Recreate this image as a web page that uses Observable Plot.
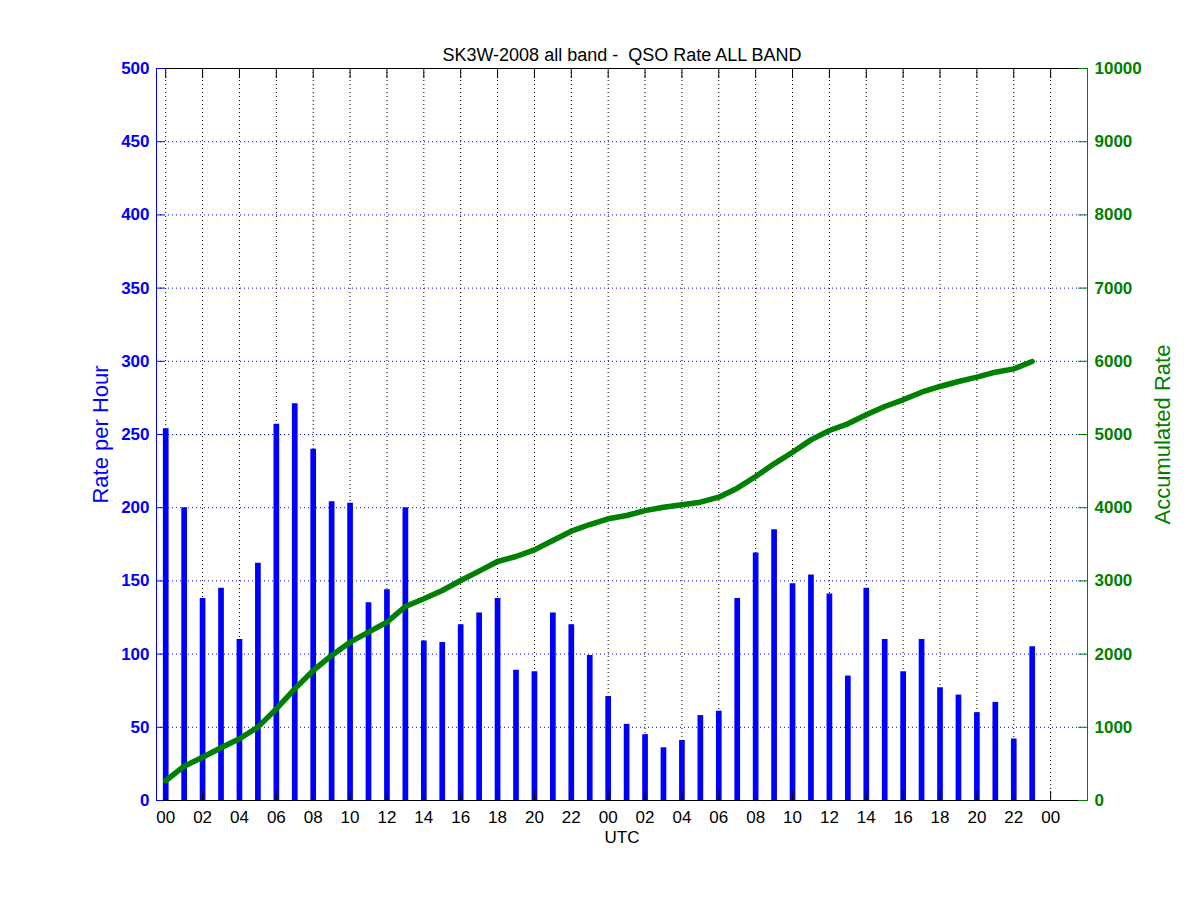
<!DOCTYPE html>
<html>
<head>
<meta charset="utf-8">
<script src="https://cdn.jsdelivr.net/npm/d3@7"></script>
<script src="https://cdn.jsdelivr.net/npm/@observablehq/plot@0.6"></script>
<style>
  html, body { margin: 0; padding: 0; background: #ffffff; }
  #chart { width: 1201px; height: 900px; }
</style>
</head>
<body>
<div id="chart"></div>
<script>
// Hour index over two contest days (0 = 00 UTC day 1, 24 = 00 UTC day 2)
const hourIndex = [0,1,2,3,4,5,6,7,8,9,10,11,12,13,14,15,16,17,18,19,20,21,22,23,
                   24,25,26,27,28,29,30,31,32,33,34,35,36,37,38,39,40,41,42,43,44,45,46,47];

// QSOs per hour (left axis)
const ratePerHour = [254,200,138,145,110,162,257,271,240,204,203,135,144,200,109,108,120,128,138,89,88,128,120,99,
                     71,52,45,36,41,58,61,138,169,185,148,154,141,85,145,110,88,110,77,72,60,67,42,105];

// Accumulated QSOs (right axis)
const accumulatedRate = [270,469,592,720,843,1002,1252,1525,1776,1981,2163,2300,2436,2650,2755,2869,3005,3133,3265,3333,3424,3552,3679,3770,
                         3848,3893,3960,4007,4039,4075,4144,4267,4426,4599,4758,4927,5055,5146,5269,5383,5474,5578,5656,5724,5783,5851,5897,5997];

// Tick positions and labels
const xTickPositions = [0,2,4,6,8,10,12,14,16,18,20,22,24,26,28,30,32,34,36,38,40,42,44,46,48];
const xTickLabels = ["00","02","04","06","08","10","12","14","16","18","20","22",
                     "00","02","04","06","08","10","12","14","16","18","20","22","00"];
const leftTicks = [0,50,100,150,200,250,300,350,400,450,500];
const leftGrid = [50,100,150,200,250,300,350,400,450];
const rightTicks = [0,1000,2000,3000,4000,5000,6000,7000,8000,9000,10000];
const xDomain = [-0.5, 50];
const leftDomain = [0, 500];
const rightDomain = [0, 10000];

const ratio = rightDomain[1] / leftDomain[1];

const data = hourIndex.map((h, i) => ({hour: h, rate: ratePerHour[i], acc: accumulatedRate[i]}));

const BLUE = "#0000ff";
const GREEN = "#008000";
const FONT = "'Liberation Sans', Arial, Helvetica, sans-serif";

const chart = Plot.plot({
  width: 1201,
  height: 900,
  marginLeft: 156,
  marginRight: 114,
  marginTop: 68,
  marginBottom: 100,
  style: {fontFamily: FONT, fontSize: "17px", background: "#ffffff", color: "black", overflow: "visible"},
  x: {domain: xDomain},
  y: {domain: leftDomain},
  marks: [
    // grid
    Plot.ruleY(leftGrid, {stroke: BLUE, strokeDasharray: "1,3", strokeWidth: 1}),
    Plot.ruleX(xTickPositions, {stroke: "black", strokeDasharray: "1,3", strokeWidth: 1}),
    // bars
    Plot.ruleX(data, {x: "hour", y1: 0, y2: "rate", stroke: BLUE, strokeWidth: 5.7}),
    // accumulated line
    Plot.line(data, {x: "hour", y: d => d.acc / ratio, stroke: GREEN, strokeWidth: 5.5, strokeLinejoin: "round", strokeLinecap: "round"}),
    // borders
    Plot.ruleY([leftDomain[0], leftDomain[1]], {stroke: "black", strokeWidth: 1}),
    Plot.ruleX([xDomain[0]], {stroke: BLUE, strokeWidth: 1}),
    Plot.ruleX([xDomain[1]], {stroke: GREEN, strokeWidth: 1}),
    // inward ticks
    Plot.axisX({anchor: "bottom", ticks: xTickPositions, tickSize: 9, dy: -9, tickFormat: () => "", color: "black", label: null}),
    Plot.axisX({anchor: "top", ticks: xTickPositions, tickSize: 9, dy: 9, tickFormat: () => "", color: "black", label: null}),
    Plot.axisY({anchor: "left", ticks: leftTicks, tickSize: 8, dx: 8, tickFormat: () => "", color: BLUE, label: null}),
    Plot.axisY({anchor: "right", ticks: rightTicks.map(v => v / ratio), tickSize: 10, dx: -10, tickFormat: () => "", color: GREEN, label: null}),
    // tick labels
    Plot.axisX({anchor: "bottom", ticks: xTickPositions, tickSize: 0, tickPadding: 10,
      tickFormat: (d) => xTickLabels[xTickPositions.indexOf(d)], color: "black", label: null}),
    Plot.axisY({anchor: "left", ticks: leftTicks, tickSize: 0, tickPadding: 7,
      tickFormat: d => String(d), color: BLUE, label: null, fontWeight: "bold"}),
    Plot.axisY({anchor: "right", ticks: rightTicks.map(v => v / ratio), tickSize: 0, tickPadding: 7,
      tickFormat: d => String(Math.round(d * ratio)), color: GREEN, label: null, fontWeight: "bold"}),
    // titles
    Plot.text(["SK3W-2008 all band -  QSO Rate ALL BAND"], {frameAnchor: "top", dy: -20, fill: "black", fontSize: 18, textAnchor: "middle"}),
    Plot.text(["UTC"], {frameAnchor: "bottom", dy: 42, fill: "black", fontSize: 17, textAnchor: "middle"}),
    Plot.text(["Rate per Hour"], {frameAnchor: "left", dx: -56, rotate: -90, fill: BLUE, fontSize: 22, textAnchor: "middle"}),
    Plot.text(["Accumulated Rate"], {frameAnchor: "right", dx: 75, rotate: -90, fill: GREEN, fontSize: 22, textAnchor: "middle"})
  ]
});

document.getElementById("chart").appendChild(chart);
</script>
</body>
</html>
